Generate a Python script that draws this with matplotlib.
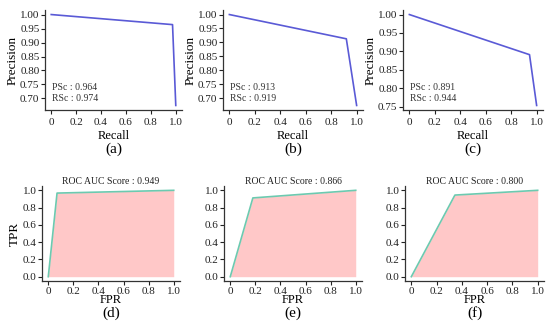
import matplotlib
matplotlib.use("Agg")
import matplotlib.pyplot as plt

plt.rcParams['font.family'] = ['Liberation Serif', 'DejaVu Serif']

# PR curves: (recall, precision)
pr_recall = [[0.0, 0.974, 1.0], [0.0, 0.919, 1.0], [0.0, 0.944, 1.0]]
pr_precision = [[1.0, 0.964, 0.675], [1.0, 0.913, 0.674], [1.0, 0.891, 0.753]]
psc = ["0.964", "0.913", "0.891"]
rsc = ["0.974", "0.919", "0.944"]
pr_yticks = [[0.70, 0.75, 0.80, 0.85, 0.90, 0.95, 1.00],
             [0.70, 0.75, 0.80, 0.85, 0.90, 0.95, 1.00],
             [0.75, 0.80, 0.85, 0.90, 0.95, 1.00]]
pr_labels = ["(a)", "(b)", "(c)"]

# ROC curves: (fpr, tpr)
roc_fpr = [[0.0, 0.07, 1.0], [0.0, 0.18, 1.0], [0.0, 0.345, 1.0]]
roc_tpr = [[0.0, 0.968, 1.0], [0.0, 0.912, 1.0], [0.0, 0.945, 1.0]]
auc = ["0.949", "0.866", "0.800"]
roc_labels = ["(d)", "(e)", "(f)"]

xticks = [0, 0.2, 0.4, 0.6, 0.8, 1.0]
xticklabels = ["0", "0.2", "0.4", "0.6", "0.8", "1.0"]

W, H = 550, 336
fig = plt.figure(figsize=(5.5, 3.36), dpi=100)

row1 = [(45, 182), (223, 363), (403, 543)]
row2 = [(42, 180), (224, 362), (405, 544)]

def style(ax, xpad):
    for s in ['top', 'right']:
        ax.spines[s].set_visible(False)
    for s in ['left', 'bottom']:
        ax.spines[s].set_color('#333333')
        ax.spines[s].set_linewidth(0.9)
    ax.tick_params(length=3, width=0.8, labelsize=8, colors='#222222')
    ax.tick_params(axis='y', pad=1)
    ax.tick_params(axis='x', pad=xpad)
    ax.set_xticks(xticks)
    ax.set_xticklabels(xticklabels)

for i in range(3):
    l, r = row1[i]
    ax = fig.add_axes([l / W, 1 - 110 / H, (r - l) / W, 100 / H])
    ax.plot(pr_recall[i], pr_precision[i], color='#5a5ad6', lw=1.2)
    style(ax, 3)
    ax.set_yticks(pr_yticks[i])
    ax.set_yticklabels([f"{v:.2f}" for v in pr_yticks[i]])
    ax.set_xlabel("Recall", fontsize=9, labelpad=2)
    ax.set_ylabel("Precision", fontsize=9.5, labelpad=1)
    ax.text(0.05, 0.17, f"PSc : {psc[i]}\nRSc : {rsc[i]}", transform=ax.transAxes,
            fontsize=7, color='#333333', va='center', ha='left', linespacing=1.3)
    ax.text(0.5, -0.39, pr_labels[i], transform=ax.transAxes, ha='center', va='center',
            fontsize=11)

for i in range(3):
    l, r = row2[i]
    ax = fig.add_axes([l / W, 1 - 281 / H, (r - l) / W, 95 / H])
    ax.fill_between(roc_fpr[i], roc_tpr[i], 0, color='#ffc8c8', lw=0)
    ax.plot(roc_fpr[i], roc_tpr[i], color='#6ccab0', lw=1.2)
    style(ax, 1)
    ax.set_yticks([0.0, 0.2, 0.4, 0.6, 0.8, 1.0])
    ax.set_yticklabels(["0.0", "0.2", "0.4", "0.6", "0.8", "1.0"])
    ax.set_xlabel("FPR", fontsize=9, labelpad=-1)
    if i == 0:
        ax.set_ylabel("TPR", fontsize=9.5, labelpad=1)
    ax.set_title(f"ROC AUC Score : {auc[i]}", fontsize=7, pad=-2, color='#222222')
    ax.text(0.5, -0.335, roc_labels[i], transform=ax.transAxes, ha='center', va='center',
            fontsize=11)

fig.savefig("out.png", dpi=100)
